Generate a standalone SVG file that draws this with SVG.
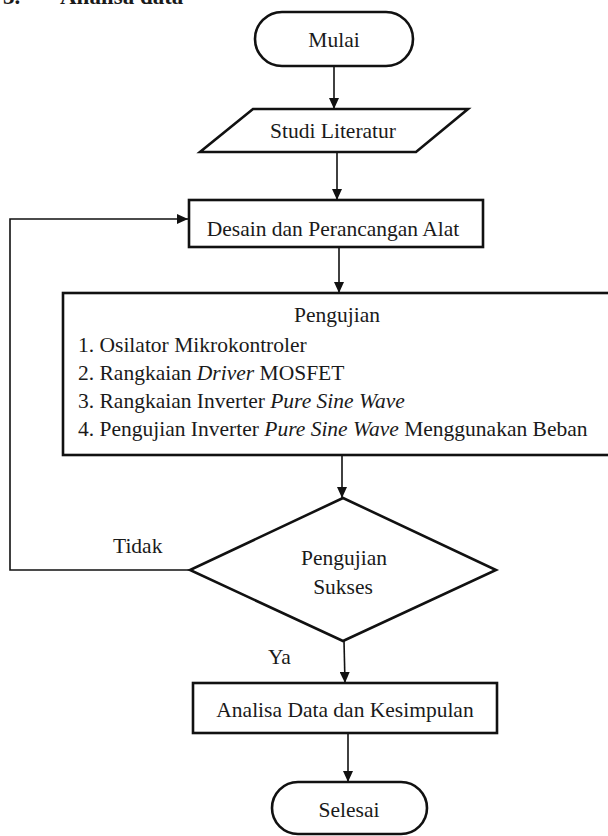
<svg xmlns="http://www.w3.org/2000/svg" width="608" height="836" viewBox="0 0 608 836">
<style>
.shape{fill:#fff;stroke:#111;stroke-width:2.6}
.conn{fill:none;stroke:#111;stroke-width:1.6}
text{font-family:"Liberation Serif",Tinos,"Times New Roman",Times,"DejaVu Serif","Noto Serif",serif;font-size:21.5px;fill:#1a1a1a}
.c{text-anchor:middle}
.i{font-style:italic}
.h{font-weight:bold;font-size:23px}
</style>
<defs>
<marker id="ah" markerUnits="userSpaceOnUse" markerWidth="11" markerHeight="10" refX="11" refY="5" orient="auto">
<path d="M0,0 L11,5 L0,10 z" fill="#111"/>
</marker>
</defs>
<rect width="608" height="836" fill="#fff"/>
<text class="h" x="3" y="4">3.</text>
<text class="h" x="60" y="4">Analisa data</text>
<g id="connectors">
<line class="conn" x1="334" y1="66" x2="334" y2="109" marker-end="url(#ah)"/>
<line class="conn" x1="337" y1="152" x2="337" y2="200" marker-end="url(#ah)"/>
<line class="conn" x1="339" y1="247" x2="339" y2="293" marker-end="url(#ah)"/>
<line class="conn" x1="342" y1="455" x2="342" y2="498" marker-end="url(#ah)"/>
<polyline class="conn" points="190,570 10,570 10,219 188,219" marker-end="url(#ah)"/>
<line class="conn" x1="344" y1="641" x2="345" y2="683" marker-end="url(#ah)"/>
<line class="conn" x1="348" y1="733" x2="348" y2="782" marker-end="url(#ah)"/>
<text x="113" y="553">Tidak</text>
<text x="268" y="664">Ya</text>
</g>
<g id="mulai">
<rect class="shape" x="255" y="12" width="158" height="54" rx="27"/>
<text class="c" x="334" y="47">Mulai</text>
</g>
<g id="studi">
<polygon class="shape" points="253,109 468,109 416,152 200,152"/>
<text class="c" x="333" y="138">Studi Literatur</text>
</g>
<g id="desain">
<rect class="shape" x="189" y="200" width="294" height="47"/>
<text class="c" x="333" y="236">Desain dan Perancangan Alat</text>
</g>
<g id="pengujian">
<rect class="shape" x="63" y="293" width="548" height="162"/>
<text class="c" x="337" y="322">Pengujian</text>
<text x="78" y="352">1. Osilator Mikrokontroler</text>
<text x="78" y="380">2. Rangkaian <tspan class="i">Driver</tspan> MOSFET</text>
<text x="78" y="408">3. Rangkaian Inverter <tspan class="i">Pure Sine Wave</tspan></text>
<text x="78" y="436">4. Pengujian Inverter <tspan class="i">Pure Sine Wave</tspan> Menggunakan Beban</text>
</g>
<g id="keputusan">
<polygon class="shape" points="343,498 496,570 343,641 190,570"/>
<text class="c" x="344" y="565">Pengujian</text>
<text class="c" x="343" y="594">Sukses</text>
</g>
<g id="analisa">
<rect class="shape" x="193" y="683" width="304" height="50"/>
<text class="c" x="345" y="717">Analisa Data dan Kesimpulan</text>
</g>
<g id="selesai">
<rect class="shape" x="272" y="782" width="155" height="52" rx="26"/>
<text class="c" x="349" y="817">Selesai</text>
</g>
</svg>
